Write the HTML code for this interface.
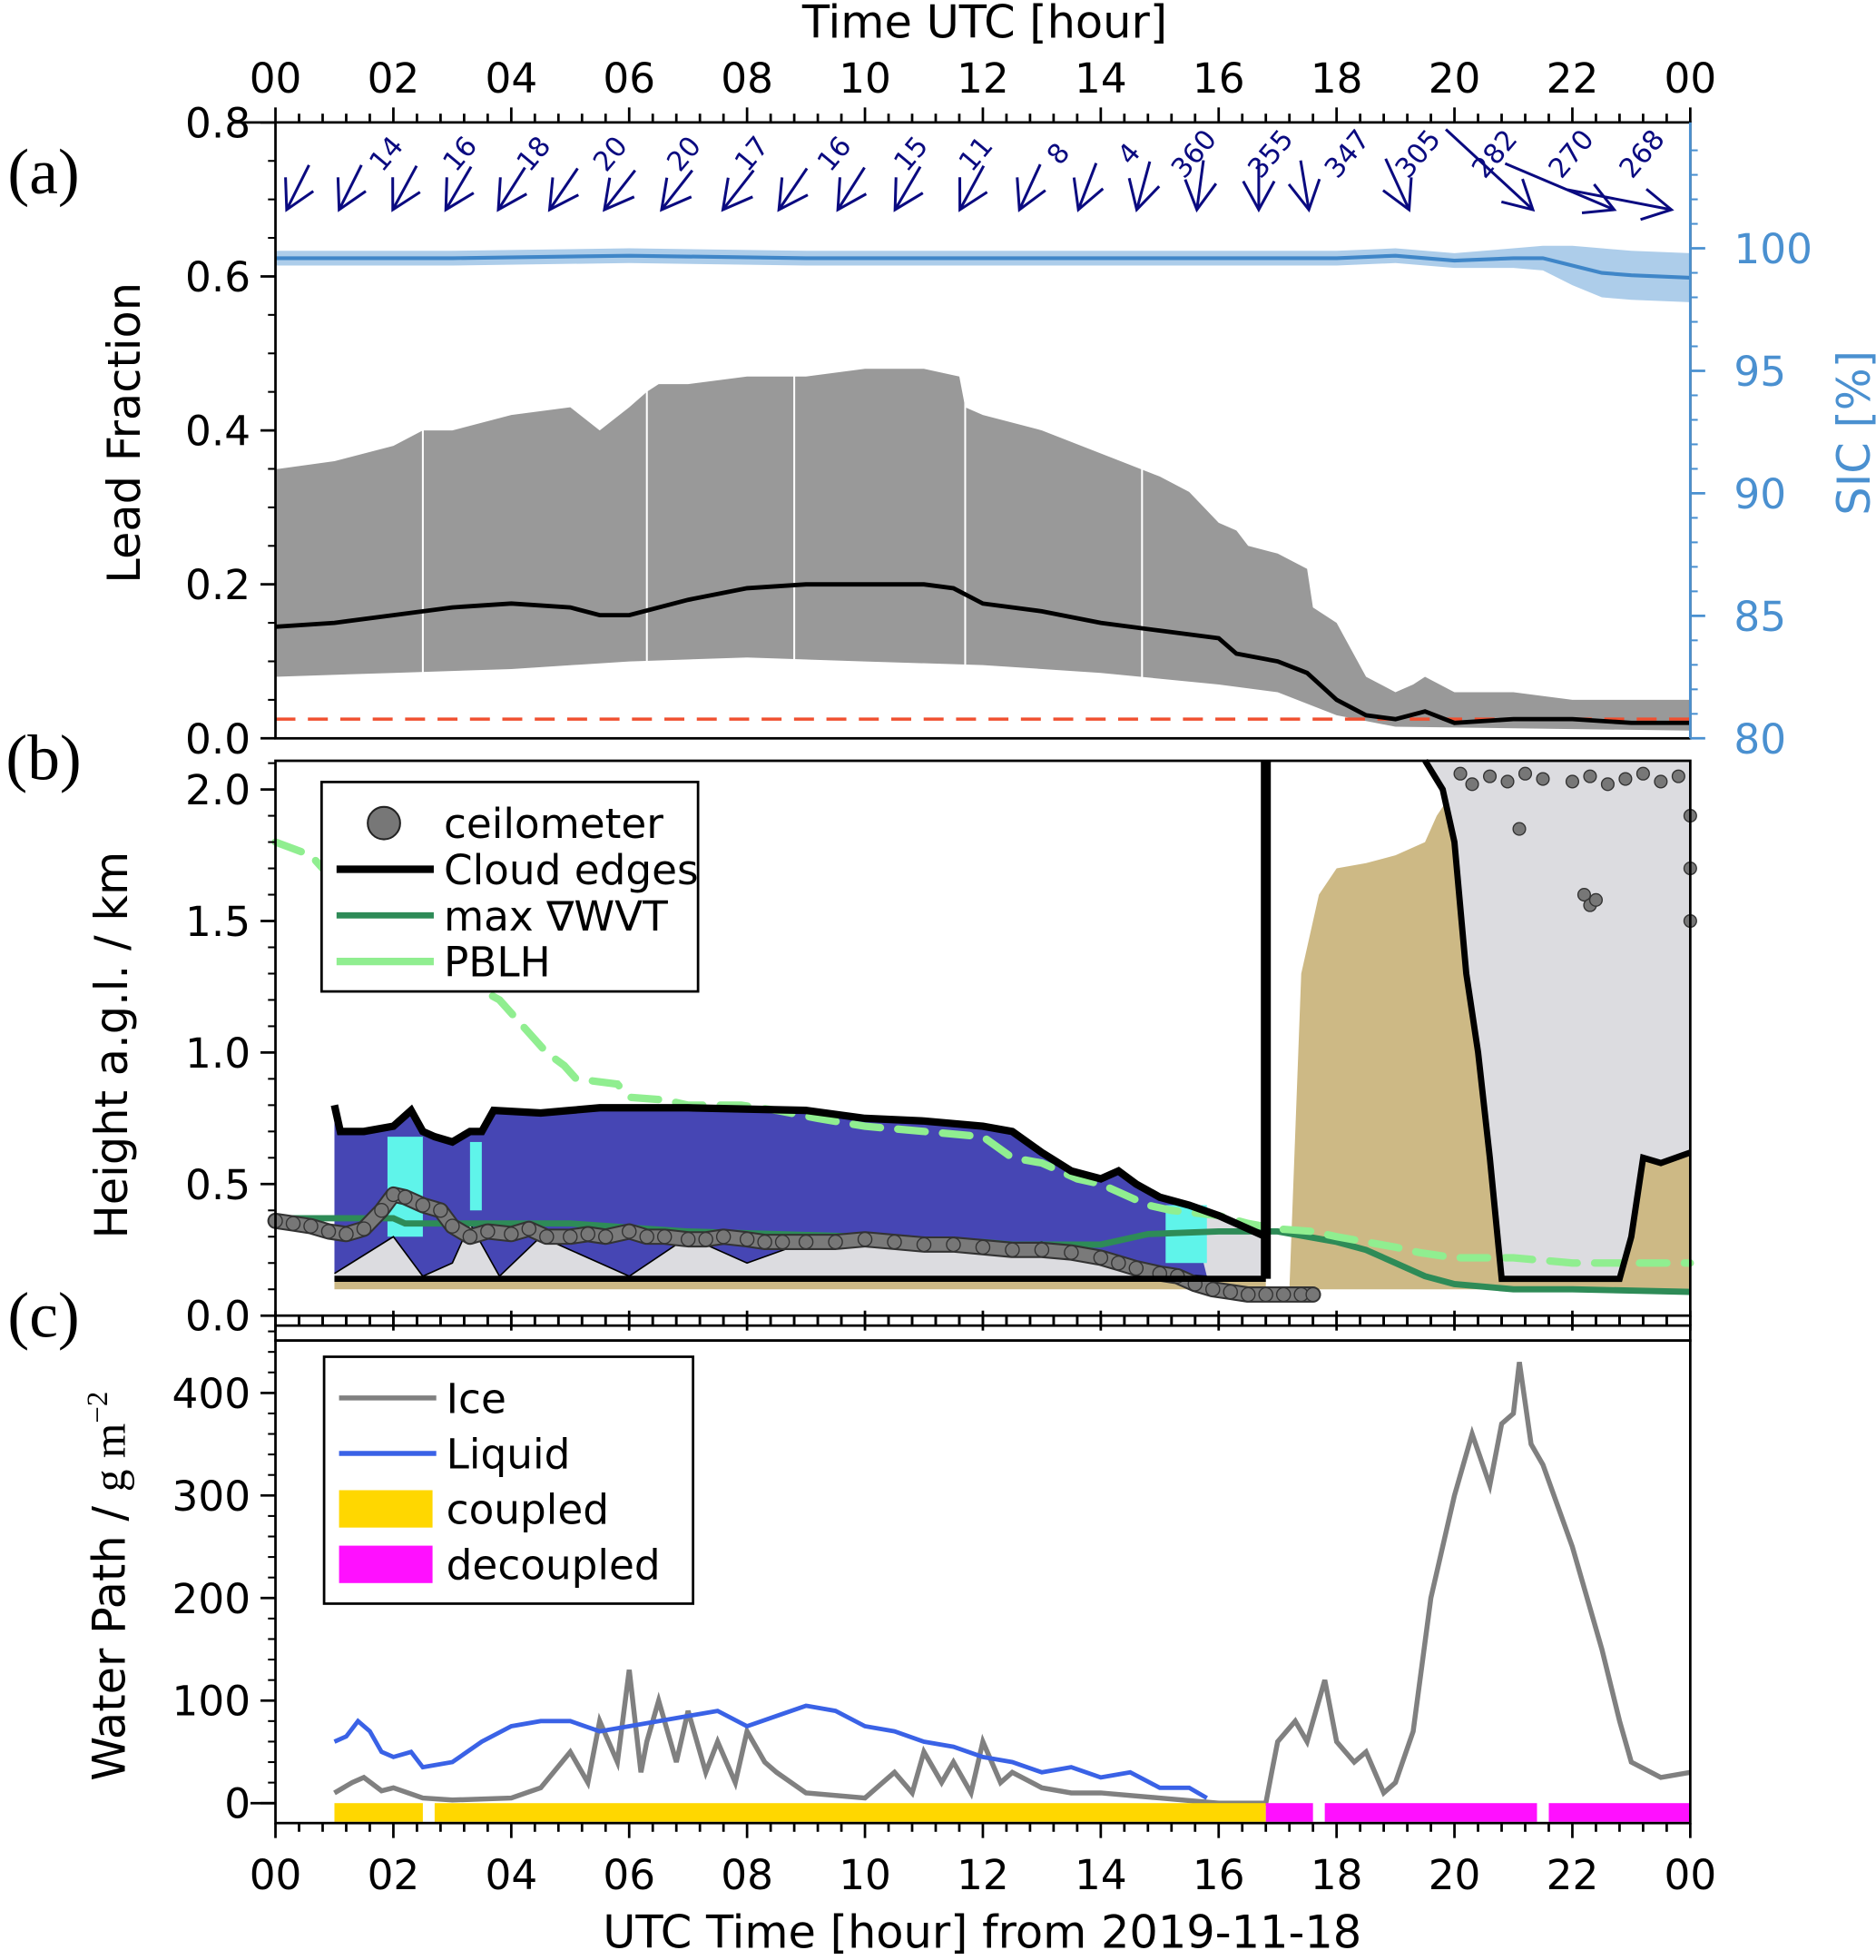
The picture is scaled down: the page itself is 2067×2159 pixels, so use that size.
<!DOCTYPE html>
<html><head><meta charset="utf-8"><style>
html,body{margin:0;padding:0;background:#fff}
svg text{font-family:"DejaVu Sans","Liberation Sans",sans-serif}
</style></head><body>
<svg id="chart" xmlns="http://www.w3.org/2000/svg" width="2067" height="2154" viewBox="0 0 1505 1568">
<g id="g-a"></g>
<g id="g-b"></g>
<g id="g-c"></g>
<g id="g-ax"></g>
<text x="35" y="155" font-size="52" style="font-family:'Liberation Serif',serif" text-anchor="middle">(a)</text>
<text x="35" y="625" font-size="52" style="font-family:'Liberation Serif',serif" text-anchor="middle">(b)</text>
<text x="35" y="1072" font-size="52" style="font-family:'Liberation Serif',serif" text-anchor="middle">(c)</text>
<text x="790" y="30" font-size="36" text-anchor="middle">Time UTC [hour]</text>
<text x="788" y="1562" font-size="36" text-anchor="middle">UTC Time [hour] from 2019-11-18</text>
<text transform="translate(112,347) rotate(-90)" font-size="36" text-anchor="middle">Lead Fraction</text>
<text transform="translate(1500,347) rotate(-90)" font-size="36" text-anchor="middle" fill="#4a90d0">SIC [%]</text>
<text transform="translate(102,838) rotate(-90)" font-size="36" text-anchor="middle">Height a.g.l. / km</text>
<text transform="translate(100,1272) rotate(-90)" font-size="36" text-anchor="middle">Water Path / <tspan style="font-family:'Liberation Serif',serif">g m</tspan><tspan font-size="24" dy="-14" style="font-family:'Liberation Serif',serif">−2</tspan></text>
</svg>
<script>
// ---------- data ----------
const leadUpH=[0,0.05,1,2,2.5,3,4,5,5.5,6,6.3,6.5,7,8,9,10,11,11.6,11.7,12,13,14,15,15.5,16,16.3,16.5,17,17.5,17.6,18,18.5,19,19.3,19.5,20,21,22,23,24];
const leadUpV=[0.35,0.35,0.36,0.38,0.40,0.40,0.42,0.43,0.40,0.43,0.45,0.46,0.46,0.47,0.47,0.48,0.48,0.47,0.43,0.42,0.40,0.37,0.34,0.32,0.28,0.27,0.25,0.24,0.22,0.17,0.15,0.08,0.06,0.07,0.08,0.06,0.06,0.05,0.05,0.05];
const leadLoH=[0,2,4,6,8,10,12,14,16,17,18,19,24];
const leadLoV=[0.08,0.085,0.09,0.10,0.105,0.10,0.095,0.085,0.07,0.06,0.03,0.015,0.01];
const leadMedH=[0,1,2,3,4,5,5.5,6,7,8,9,10,11,11.5,12,13,14,15,16,16.3,17,17.5,18,18.5,19,19.5,20,21,22,23,24];
const leadMedV=[0.145,0.15,0.16,0.17,0.175,0.17,0.16,0.16,0.18,0.195,0.2,0.2,0.2,0.195,0.175,0.165,0.15,0.14,0.13,0.11,0.10,0.085,0.05,0.03,0.025,0.035,0.02,0.025,0.025,0.02,0.02];
const sicH=[0,3,6,9,12,15,18,19,20,21,21.5,22,22.5,23,24];
const sicV=[99.6,99.6,99.7,99.6,99.6,99.6,99.6,99.7,99.5,99.6,99.6,99.3,99.0,98.9,98.8];
const sicErr=[0.3,0.3,0.3,0.3,0.3,0.3,0.3,0.3,0.3,0.4,0.5,0.8,1.0,1.0,1.0];
const leadThreshold=0.025;
const arrowTipH=[0.19,1.08,1.99,2.89,3.78,4.65,5.58,6.55,7.59,8.54,9.54,10.51,11.61,12.62,13.62,14.61,15.63,16.68,17.53,19.23,21.33,22.71,23.68];
const arrowDir=[14,14,15,16,17,18,20,20,20,18,17,16,15,13,11,8,4,360,355,347,305,282,268];
const arrowSpd=[40,40,40,40,40,40,40,40,40,40,40,40,40,40,40,40,40,40,40,45,95,95,85];
const labelH=[2.0,3.25,4.5,5.8,7.05,8.2,9.6,10.9,12.0,13.4,14.6,15.7,17.0,18.3,19.5,20.8,22.1,23.3];
const labelTxt=["14","16","18","20","20","17","16","15","11","8","4","360","355","347","305","282","270","268"];
// panel b
const topH=[1,1.1,1.5,2,2.3,2.5,2.7,3,3.3,3.5,3.7,4.5,5,5.5,7,9,10,11,12,12.5,13,13.5,14,14.3,14.6,15,15.5,16,16.8];
const topV=[0.8,0.7,0.7,0.72,0.78,0.7,0.68,0.66,0.7,0.7,0.78,0.77,0.78,0.79,0.79,0.78,0.75,0.74,0.72,0.7,0.62,0.55,0.52,0.55,0.5,0.45,0.42,0.38,0.3];
const blueLoH=[1,2,2.5,3,3.3,3.8,4.5,5,6,7,8,9,10,11,12,13,14,15,15.8];
const blueLoV=[0.16,0.3,0.15,0.2,0.35,0.15,0.3,0.25,0.15,0.3,0.2,0.28,0.3,0.28,0.25,0.28,0.2,0.16,0.15];
const cloudBase=0.14;
const wvtH=[0,2,2.2,3,5,6.3,7,10,10.5,12,12.5,14,14.8,16,17,18,18.5,19,19.5,20,21,22,24];
const wvtV=[0.37,0.37,0.35,0.35,0.35,0.33,0.32,0.3,0.28,0.28,0.27,0.27,0.31,0.32,0.32,0.28,0.25,0.2,0.15,0.12,0.1,0.1,0.09];
const pblH=[0,0.6,1.2,2.2,3,3.8,4.2,4.6,4.9,5.1,5.8,6.0,6.6,7.0,7.9,8.5,9.2,10.0,10.5,12.0,12.5,13.0,13.6,14.0,14.8,15.2,16.0,16.5,17.0,17.6,18.0,18.5,19.0,19.4,20.0,21.0,22.0,22.5,23.0,24.0];
const pblV=[1.8,1.75,1.6,1.45,1.3,1.2,1.1,1.0,0.95,0.9,0.88,0.83,0.82,0.8,0.8,0.78,0.75,0.72,0.71,0.68,0.6,0.58,0.52,0.5,0.42,0.4,0.38,0.35,0.33,0.32,0.3,0.28,0.26,0.24,0.22,0.22,0.2,0.2,0.2,0.2];
const ceilH=[0,0.3,0.6,0.9,1.2,1.5,1.8,2.0,2.2,2.5,2.8,3.0,3.3,3.6,4.0,4.3,4.6,5.0,5.3,5.6,6.0,6.3,6.6,7.0,7.3,7.6,8.0,8.3,8.6,9.0,9.5,10,10.5,11,11.5,12,12.5,13,13.5,14,14.3,14.6,15,15.3,15.6,15.9,16.2,16.5,16.8,17.1,17.4,17.6];
const ceilV=[0.36,0.35,0.34,0.32,0.31,0.33,0.4,0.46,0.45,0.42,0.4,0.34,0.30,0.32,0.31,0.33,0.30,0.30,0.31,0.30,0.32,0.30,0.30,0.29,0.29,0.30,0.29,0.28,0.28,0.28,0.28,0.29,0.28,0.27,0.27,0.26,0.25,0.25,0.24,0.22,0.2,0.18,0.16,0.15,0.12,0.1,0.09,0.08,0.08,0.08,0.08,0.08];
const ceilHiH=[20.1,20.3,20.6,20.9,21.2,21.5,22.0,22.3,22.6,22.9,23.2,23.5,23.8,24,21.1,22.2,22.3,22.4,24,24];
const ceilHiV=[2.06,2.02,2.05,2.03,2.06,2.04,2.03,2.05,2.02,2.04,2.06,2.03,2.05,1.7,1.85,1.6,1.56,1.58,1.5,1.9];
const tanH=[17.2,17.4,17.7,18,18.5,19,19.5,19.7,20];
const tanV=[0.1,1.3,1.6,1.7,1.72,1.75,1.8,1.9,2.0];
const rightEdgeH=[19.5,19.8,20.0,20.2,20.4,20.6,20.8,22.8,23.0,23.2,23.5,24];
const rightEdgeV=[2.11,2.0,1.8,1.3,1.0,0.6,0.14,0.14,0.3,0.6,0.58,0.62];
// panel c
const iceH=[1,1.3,1.5,1.8,2,2.5,3,4,4.5,5,5.3,5.5,5.8,6,6.2,6.3,6.5,6.8,7,7.3,7.5,7.8,8,8.3,8.5,9,10,10.3,10.5,10.8,11,11.3,11.5,11.8,12,12.3,12.5,13,13.5,14,15,16,16.8,16.9,17,17.3,17.5,17.8,18,18.3,18.5,18.8,19,19.3,19.6,20,20.3,20.6,20.8,21,21.1,21.3,21.5,22,22.5,22.8,23,23.5,24];
const iceV=[10,20,25,12,15,5,3,5,15,50,20,80,40,130,30,60,100,40,90,30,60,20,70,40,30,10,5,20,30,10,50,20,40,10,60,20,30,15,10,10,5,0,0,30,60,80,60,120,60,40,50,10,20,70,200,300,360,310,370,380,430,350,330,250,150,80,40,25,30];
const liqH=[1,1.2,1.4,1.6,1.8,2,2.3,2.5,3,3.5,4,4.5,5,5.5,6,6.5,7,7.5,8,8.5,9,9.5,10,10.5,11,11.5,12,12.5,13,13.5,14,14.5,15,15.5,15.8];
const liqV=[60,65,80,70,50,45,50,35,40,60,75,80,80,70,75,80,85,90,75,85,95,90,75,70,60,55,45,40,30,35,25,30,15,15,5];
const coupledStart=[1.0,2.7];
const coupledEnd=[2.5,16.8];
const decoupledStart=[16.8,17.8,21.6];
const decoupledEnd=[17.6,21.4,24];

// ---------- scales ----------
const X0=221,X1=1356;
const xh=h=>X0+h*(X1-X0)/24;
const ya=v=>592-v*617.5;
const ys=s=>592-(s-80)*19.65;
const yb=k=>1055-k*211;
const yc=v=>1446-v*0.8225;
const NS='http://www.w3.org/2000/svg';
function mk(tag,parent,attrs){const e=document.createElementNS(NS,tag);for(const k in attrs)e.setAttribute(k,attrs[k]);parent.appendChild(e);return e;}
const gA=document.getElementById('g-a'),gB=document.getElementById('g-b'),gC=document.getElementById('g-c'),gX=document.getElementById('g-ax');
const pts=(H,V,fy)=>H.map((h,i)=>xh(h).toFixed(1)+','+fy(V[i]).toFixed(1)).join(' ');

// ---------- panel a ----------
let e;
e=mk('polygon',gA,{points:pts(leadUpH,leadUpV,ya)+' '+pts(leadLoH.slice().reverse(),leadLoV.slice().reverse(),ya),fill:'#999'});


[2.5,6.3,8.8,11.7,14.7].forEach(h=>{const l=mk('line',gA,{x1:xh(h),x2:xh(h),y1:ya(0.5),y2:ya(0.05),stroke:'#fff','stroke-width':1.5});

});
e=mk('line',gA,{x1:X0,x2:X1,y1:ya(leadThreshold),y2:ya(leadThreshold),stroke:'#f05030','stroke-width':2.5,'stroke-dasharray':'16,10'});


e=mk('polyline',gA,{points:pts(leadMedH,leadMedV,ya),fill:'none',stroke:'#000','stroke-width':3.5});


const sU=sicV.map((v,i)=>v+sicErr[i]),sL=sicV.map((v,i)=>v-sicErr[i]);
e=mk('polygon',gA,{points:pts(sicH,sU,ys)+' '+pts(sicH.slice().reverse(),sL.slice().reverse(),ys),fill:'#4a90d0','fill-opacity':0.45});


e=mk('polyline',gA,{points:pts(sicH,sicV,ys),fill:'none',stroke:'#3f86c8','stroke-width':3});


// wind arrows (tip anchored)
arrowDir.forEach((d,i)=>{
  let a=d<180?-d:360-d;           // degrees from "pointing south", + = toward east
  const sa=Math.abs(a)<30?a*1.9:a*0.86;
  const r=sa*Math.PI/180;
  const u=Math.sin(r),v=Math.cos(r);
  const L=arrowSpd[i],x2=xh(arrowTipH[i]),y2=168;
  const x1=x2-u*L,y1=y2-v*L;
  const ang=Math.atan2(v,u),hl=26;
  const g=mk('g',gA,{stroke:'#0a0a80','stroke-width':2.2,fill:'none'});
  
  
  mk('line',g,{x1:x1,y1:y1,x2:x2,y2:y2});
  mk('polyline',g,{points:`${x2-hl*Math.cos(ang-0.5)},${y2-hl*Math.sin(ang-0.5)} ${x2},${y2} ${x2-hl*Math.cos(ang+0.5)},${y2-hl*Math.sin(ang+0.5)}`});
});
labelTxt.forEach((t,i)=>{const tx=mk('text',gA,{transform:`translate(${xh(labelH[i])},${128}) rotate(-50)`,'font-size':22,fill:'#0a0a80','text-anchor':'middle'});tx.textContent=t;

});

// ---------- panel b ----------
e=mk('polygon',gB,{points:pts(tanH,tanV,yb)+` ${xh(24)},${yb(2.11)} ${xh(24)},${yb(0.1)}`,fill:'#cdb985'});


e=mk('rect',gB,{x:xh(1),y:yb(cloudBase),width:xh(16.8)-xh(1),height:yb(0.1)-yb(cloudBase),fill:'#cdb985'});


e=mk('polygon',gB,{points:pts(topH,topV,yb)+` ${xh(16.8)},${yb(cloudBase)} ${xh(1)},${yb(cloudBase)}`,fill:'#dcdce0'});


e=mk('polygon',gB,{points:pts(topH.slice(0,-2),topV.slice(0,-2),yb)+' '+pts(blueLoH.slice().reverse(),blueLoV.slice().reverse(),yb),fill:'#4646b4'});


[[1.9,2.5,0.3,0.68],[15.1,15.8,0.2,0.42],[3.3,3.5,0.4,0.66]].forEach(c=>{const r=mk('rect',gB,{x:xh(c[0]),y:yb(c[3]),width:xh(c[1])-xh(c[0]),height:yb(c[2])-yb(c[3]),fill:'#5ff4ea'});

});
e=mk('polyline',gB,{points:pts(blueLoH,blueLoV,yb),fill:'none',stroke:'#000','stroke-width':1.2});


e=mk('polygon',gB,{points:pts(rightEdgeH,rightEdgeV,yb)+` ${xh(24)},${yb(2.11)}`,fill:'#dcdce0'});


e=mk('polyline',gB,{points:pts(wvtH,wvtV,yb),fill:'none',stroke:'#2e8b57','stroke-width':5});


e=mk('polyline',gB,{points:pts(pblH,pblV,yb),fill:'none',stroke:'#90ee90','stroke-width':6,'stroke-dasharray':'22,14','stroke-linecap':'round'});


e=mk('polyline',gB,{points:pts(ceilH,ceilV,yb),fill:'none',stroke:'#333','stroke-width':13,'stroke-linejoin':'round','stroke-linecap':'round'});


e=mk('polyline',gB,{points:pts(ceilH,ceilV,yb),fill:'none',stroke:'#7a7a7a','stroke-width':10,'stroke-linejoin':'round','stroke-linecap':'round'});


ceilH.forEach((h,i)=>{const c=mk('circle',gB,{cx:xh(h),cy:yb(ceilV[i]),r:5.5,fill:'#777',stroke:'#333','stroke-width':1});

});
ceilHiH.forEach((h,i)=>{const c=mk('circle',gB,{cx:xh(h),cy:yb(ceilHiV[i]),r:5,fill:'#777',stroke:'#333','stroke-width':1});

});
e=mk('polyline',gB,{points:pts(topH,topV,yb),fill:'none',stroke:'#000','stroke-width':6});


e=mk('line',gB,{x1:xh(1),x2:xh(16.8),y1:yb(cloudBase),y2:yb(cloudBase),stroke:'#000','stroke-width':5});


e=mk('line',gB,{x1:xh(16.8),x2:xh(16.8),y1:yb(cloudBase),y2:yb(2.11),stroke:'#000','stroke-width':8});


e=mk('polyline',gB,{points:pts(rightEdgeH,rightEdgeV,yb),fill:'none',stroke:'#000','stroke-width':5});



// ---------- panel c ----------
e=mk('polyline',gC,{points:pts(iceH,iceV,yc),fill:'none',stroke:'#808080','stroke-width':4});


e=mk('polyline',gC,{points:pts(liqH,liqV,yc),fill:'none',stroke:'#3a62e6','stroke-width':3.5});


coupledStart.forEach((s,i)=>{const r=mk('rect',gC,{x:xh(s),y:1446,width:xh(coupledEnd[i])-xh(s),height:15,fill:'#ffd700'});

});
decoupledStart.forEach((s,i)=>{const r=mk('rect',gC,{x:xh(s),y:1446,width:xh(decoupledEnd[i])-xh(s),height:15,fill:'#ff10ff'});

});

// ---------- axes ----------
function frame(y1,y2,name){const r=mk('rect',gX,{x:X0,y:y1,width:X1-X0,height:y2-y1,fill:'none',stroke:'#000','stroke-width':2});

}
frame(98,592,'panel-a-frame');frame(610,1055,'panel-b-frame');frame(1063,1075,'strip-frame');frame(1075,1462,'panel-c-frame');
mk('line',gX,{x1:X0-35,x2:X0,y1:98,y2:98,stroke:'#000','stroke-width':2});
function tickX(y,dir,labelY){for(let k=0;k<=60;k++){const h=k*0.4,maj=(k%5===0);const x=xh(h);
 mk('line',gX,{x1:x,x2:x,y1:y,y2:y+dir*(maj?12:7),stroke:'#000','stroke-width':2});
 if(maj&&labelY){const t=mk('text',gX,{x:x,y:labelY,'font-size':33,'text-anchor':'middle'});t.textContent=String(h%24).padStart(2,'0');
 
 }}}
tickX(98,-1,74);tickX(1462,1,1515);tickX(1063,-1,null);tickX(1055,1,null);
function tickY(vals,fy,labels,side,color,minorStep,min,max){vals.forEach((v,i)=>{const y=fy(v);const x=side<0?X0:X1;
 mk('line',gX,{x1:x,x2:x+side*12,y1:y,y2:y,stroke:color,'stroke-width':2});
 const t=mk('text',gX,{x:side<0?X0-20:X1+35,y:y+12,'font-size':33,'text-anchor':side<0?'end':'start',fill:color});t.textContent=labels[i];
 
 });
 for(let v=min;v<=max+1e-9;v+=minorStep){const y=fy(v),x=side<0?X0:X1;mk('line',gX,{x1:x,x2:x+side*6,y1:y,y2:y,stroke:color,'stroke-width':1.5});}}
tickY([0,0.2,0.4,0.6,0.8],ya,['0.0','0.2','0.4','0.6','0.8'],-1,'#000',0.05,0,0.8);
tickY([80,85,90,95,100],ys,['80','85','90','95','100'],1,'#4a90d0',1,80,104);
mk('line',gX,{x1:X1,x2:X1,y1:98,y2:592,stroke:'#4a90d0','stroke-width':2});
tickY([0,0.5,1,1.5,2],yb,['0.0','0.5','1.0','1.5','2.0'],-1,'#000',0.1,0,2.1);
tickY([0,100,200,300,400],yc,['0','100','200','300','400'],-1,'#000',20,0,460);
mk('line',gX,{x1:X0-20,x2:X0,y1:1446,y2:1446,stroke:'#000','stroke-width':2});

// legends
function legend(x,y,w,h,items,name){const g=mk('g',gX,{});

 mk('rect',g,{x:x,y:y,width:w,height:h,fill:'#fff',stroke:'#000','stroke-width':2});
 items.forEach((it,i)=>{const cy=y+33+i*(h-20)/items.length;
  if(it.t==='c')mk('circle',g,{cx:x+50,cy:cy,r:13,fill:'#777',stroke:'#222','stroke-width':1.5});
  else if(it.t==='r')mk('rect',g,{x:x+12,y:cy-15,width:75,height:30,fill:it.c});
  else mk('line',g,{x1:x+12,x2:x+90,y1:cy,y2:cy,stroke:it.c,'stroke-width':it.w});
  const t=mk('text',g,{x:x+98,y:cy+12,'font-size':33});t.textContent=it.l;
  
  });}
legend(258,627,302,168,[{t:'c',l:'ceilometer'},{c:'#000',w:6,l:'Cloud edges'},{c:'#2e8b57',w:5,l:'max ∇WVT'},{c:'#90ee90',w:6,l:'PBLH'}],'legend-b');
legend(260,1088,296,198,[{c:'#808080',w:4,l:'Ice'},{c:'#3a62e6',w:4,l:'Liquid'},{t:'r',c:'#ffd700',l:'coupled'},{t:'r',c:'#ff10ff',l:'decoupled'}],'legend-c');
</script>
</body></html>
